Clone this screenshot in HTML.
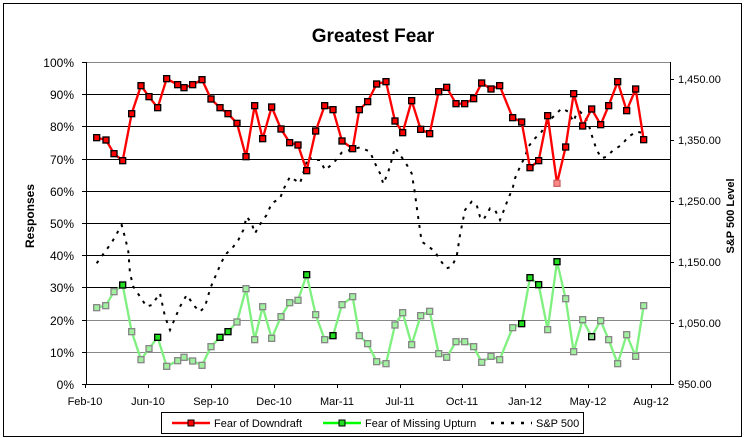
<!DOCTYPE html>
<html><head><meta charset="utf-8"><style>
html,body{margin:0;padding:0;background:#fff}
svg{display:block;font-family:"Liberation Sans",Arial,sans-serif}
</style></head><body>
<svg width="748" height="438" viewBox="0 0 748 438" xmlns="http://www.w3.org/2000/svg">
<rect x="0" y="0" width="748" height="438" fill="#fff"/>
<rect x="3.5" y="3.5" width="738" height="433" fill="#fff" stroke="#000" stroke-width="1"/>
<text x="373" y="42" font-size="19" font-weight="bold" text-anchor="middle">Greatest Fear</text>
<!-- gridlines -->
<g stroke-width="1">
<line x1="86" y1="62.5" x2="670" y2="62.5" stroke="#888"/>
<line x1="86" y1="94.5" x2="670" y2="94.5" stroke="#000"/>
<line x1="86" y1="126.5" x2="670" y2="126.5" stroke="#000"/>
<line x1="86" y1="159.5" x2="670" y2="159.5" stroke="#000"/>
<line x1="86" y1="191.5" x2="670" y2="191.5" stroke="#000"/>
<line x1="86" y1="223.5" x2="670" y2="223.5" stroke="#000"/>
<line x1="86" y1="255.5" x2="670" y2="255.5" stroke="#000"/>
<line x1="86" y1="287.5" x2="670" y2="287.5" stroke="#000"/>
<line x1="86" y1="320.5" x2="670" y2="320.5" stroke="#888"/>
<line x1="86" y1="352.5" x2="670" y2="352.5" stroke="#888"/>
</g>
<!-- axes -->
<g stroke="#000" stroke-width="1">
<line x1="86.5" y1="62" x2="86.5" y2="385"/>
<line x1="670.5" y1="62" x2="670.5" y2="385"/>
<line x1="86" y1="384.5" x2="671" y2="384.5"/>
<path d="M82 62.5h4M82 94.5h4M82 126.5h4M82 159.5h4M82 191.5h4M82 223.5h4M82 255.5h4M82 287.5h4M82 320.5h4M82 352.5h4M82 384.5h4"/>
<path d="M670 79.5h4M670 140.5h4M670 201.5h4M670 262.5h4M670 323.5h4M670 384.5h4"/>
<path d="M85.5 384v4M148.5 384v4M211.5 384v4M274.5 384v4M337.5 384v4M400.5 384v4M462.5 384v4M525.5 384v4M588.5 384v4M651.5 384v4"/>
</g>
<g font-size="12" text-anchor="end">
<text x="74" y="67">100%</text><text x="74" y="99">90%</text><text x="74" y="131">80%</text>
<text x="74" y="164">70%</text><text x="74" y="196">60%</text><text x="74" y="228">50%</text>
<text x="74" y="260">40%</text><text x="74" y="292">30%</text><text x="74" y="325">20%</text>
<text x="74" y="357">10%</text><text x="74" y="389">0%</text>
</g>
<g font-size="11">
<text x="678" y="83">1,450.00</text><text x="678" y="144">1,350.00</text><text x="678" y="205">1,250.00</text>
<text x="678" y="266">1,150.00</text><text x="678" y="327">1,050.00</text><text x="678" y="388">950.00</text>
</g>
<g font-size="11" text-anchor="middle">
<text x="85" y="405">Feb-10</text><text x="148" y="405">Jun-10</text><text x="211" y="405">Sep-10</text>
<text x="274" y="405">Dec-10</text><text x="337" y="405">Mar-11</text><text x="400" y="405">Jul-11</text>
<text x="462" y="405">Oct-11</text><text x="525" y="405">Jan-12</text><text x="588" y="405">May-12</text>
<text x="651" y="405">Aug-12</text>
</g>
<text transform="translate(34,216) rotate(-90)" font-size="12" font-weight="bold" text-anchor="middle">Responses</text>
<text transform="translate(734,216) rotate(-90)" font-size="11" font-weight="bold" text-anchor="middle">S&amp;P 500 Level</text>

<g transform="translate(80,60) scale(0.33333)">
<!-- S&P -->
<polyline fill="none" stroke="#000" stroke-width="6" stroke-dasharray="9,18" points="50,610 75,575 95,548 125,495 137,540 145,575 150,640 160,680 180,710 200,740 215,735 240,700 255,770 270,810 285,775 300,740 320,705 345,740 360,755 375,740 385,705 395,675 410,640 425,605 440,580 460,560 475,540 490,510 500,470 515,490 525,520 545,485 560,465 575,430 600,415 612,385 630,350 645,360 660,370 685,290 700,300 720,300 735,330 760,310 785,278 810,270 840,262 870,275 885,310 900,340 910,372 925,335 935,300 945,262 960,285 975,305 995,340 1005,400 1010,440 1015,475 1020,510 1025,545 1040,555 1065,575 1080,600 1100,625 1115,620 1130,590 1140,525 1148,485 1155,450 1175,425 1190,435 1200,470 1210,480 1230,445 1245,450 1260,480 1270,455 1285,415 1298,385 1305,355 1320,320 1335,290 1345,260 1365,235 1385,215 1400,190 1425,165 1445,145 1465,155 1480,185 1490,160 1500,155 1515,170 1525,190 1535,225 1550,270 1565,295 1580,290 1600,270 1625,255 1645,230 1670,215 1685,218"/>
<!-- red -->
<polyline fill="none" stroke="#f00" stroke-width="7" stroke-linejoin="round" points="50,233 78,240 102,281 128,302 155,161 183,77 207,110 233,143 260,56 293,74 312,83 338,74 366,59 393,117 420,143 444,161 471,190 498,290 524,137 548,236 575,141 603,207 629,248 654,255 680,332 707,213 734,137 759,149 786,243 818,266 838,149 863,125 890,72 918,65 945,183 968,218 995,122 1022,208 1049,221 1076,95 1100,82 1128,131 1154,131 1181,116 1205,69 1233,87 1259,77 1298,173 1325,186 1350,323 1376,302 1403,167 1431,370 1457,261 1481,101 1508,198 1535,147 1562,194 1586,137 1613,65 1640,152 1667,87 1691,239"/>
<!-- green -->
<polyline fill="none" stroke="#80f080" stroke-width="7" stroke-linejoin="round" points="50,743 77,737 102,695 128,675 155,815 183,899 207,866 233,832 260,919 293,902 312,892 338,903 366,916 393,860 420,832 444,815 471,786 498,686 524,839 548,740 575,835 603,770 629,728 654,721 680,644 707,764 734,839 759,827 786,734 818,710 838,827 863,851 890,905 918,911 945,795 968,758 995,854 1022,767 1049,754 1076,881 1100,892 1128,845 1154,845 1181,860 1205,907 1233,889 1259,899 1298,803 1325,791 1350,653 1376,674 1403,809 1431,605 1457,716 1481,875 1508,779 1535,830 1562,782 1586,839 1613,911 1640,824 1667,889 1691,737"/>
<g fill="#f00" stroke="#000" stroke-width="4">
<rect x="41" y="224" width="18" height="18"/><rect x="69" y="231" width="18" height="18"/><rect x="93" y="272" width="18" height="18"/><rect x="119" y="293" width="18" height="18"/><rect x="146" y="152" width="18" height="18"/><rect x="174" y="68" width="18" height="18"/><rect x="198" y="101" width="18" height="18"/><rect x="224" y="134" width="18" height="18"/><rect x="251" y="47" width="18" height="18"/><rect x="284" y="65" width="18" height="18"/><rect x="303" y="74" width="18" height="18"/><rect x="329" y="65" width="18" height="18"/><rect x="357" y="50" width="18" height="18"/><rect x="384" y="108" width="18" height="18"/><rect x="411" y="134" width="18" height="18"/><rect x="435" y="152" width="18" height="18"/><rect x="462" y="181" width="18" height="18"/><rect x="489" y="281" width="18" height="18"/><rect x="515" y="128" width="18" height="18"/><rect x="539" y="227" width="18" height="18"/><rect x="566" y="132" width="18" height="18"/><rect x="594" y="198" width="18" height="18"/><rect x="620" y="239" width="18" height="18"/><rect x="645" y="246" width="18" height="18"/><rect x="671" y="323" width="18" height="18"/><rect x="698" y="204" width="18" height="18"/><rect x="725" y="128" width="18" height="18"/><rect x="750" y="140" width="18" height="18"/><rect x="777" y="234" width="18" height="18"/><rect x="809" y="257" width="18" height="18"/><rect x="829" y="140" width="18" height="18"/><rect x="854" y="116" width="18" height="18"/><rect x="881" y="63" width="18" height="18"/><rect x="909" y="56" width="18" height="18"/><rect x="936" y="174" width="18" height="18"/><rect x="959" y="209" width="18" height="18"/><rect x="986" y="113" width="18" height="18"/><rect x="1013" y="199" width="18" height="18"/><rect x="1040" y="212" width="18" height="18"/><rect x="1067" y="86" width="18" height="18"/><rect x="1091" y="73" width="18" height="18"/><rect x="1119" y="122" width="18" height="18"/><rect x="1145" y="122" width="18" height="18"/><rect x="1172" y="107" width="18" height="18"/><rect x="1196" y="60" width="18" height="18"/><rect x="1224" y="78" width="18" height="18"/><rect x="1250" y="68" width="18" height="18"/><rect x="1289" y="164" width="18" height="18"/><rect x="1316" y="177" width="18" height="18"/><rect x="1341" y="314" width="18" height="18"/><rect x="1367" y="293" width="18" height="18"/><rect x="1394" y="158" width="18" height="18"/><rect x="1422" y="361" width="18" height="18" fill="#f88" stroke="#c66"/><rect x="1448" y="252" width="18" height="18"/><rect x="1472" y="92" width="18" height="18"/><rect x="1499" y="189" width="18" height="18"/><rect x="1526" y="138" width="18" height="18"/><rect x="1553" y="185" width="18" height="18"/><rect x="1577" y="128" width="18" height="18"/><rect x="1604" y="56" width="18" height="18"/><rect x="1631" y="143" width="18" height="18"/><rect x="1658" y="78" width="18" height="18"/><rect x="1682" y="230" width="18" height="18"/>
</g>
<g fill="#a0f0a0" stroke="#888" stroke-width="4">
<rect x="41" y="734" width="18" height="18"/><rect x="68" y="728" width="18" height="18"/><rect x="93" y="686" width="18" height="18"/><rect x="119" y="666" width="18" height="18" fill="#2d2" stroke="#000"/><rect x="146" y="806" width="18" height="18"/><rect x="174" y="890" width="18" height="18"/><rect x="198" y="857" width="18" height="18"/><rect x="224" y="823" width="18" height="18" fill="#2d2" stroke="#000"/><rect x="251" y="910" width="18" height="18"/><rect x="284" y="893" width="18" height="18"/><rect x="303" y="883" width="18" height="18"/><rect x="329" y="894" width="18" height="18"/><rect x="357" y="907" width="18" height="18"/><rect x="384" y="851" width="18" height="18"/><rect x="411" y="823" width="18" height="18" fill="#2d2" stroke="#000"/><rect x="435" y="806" width="18" height="18" fill="#2d2" stroke="#000"/><rect x="462" y="777" width="18" height="18"/><rect x="489" y="677" width="18" height="18"/><rect x="515" y="830" width="18" height="18"/><rect x="539" y="731" width="18" height="18"/><rect x="566" y="826" width="18" height="18"/><rect x="594" y="761" width="18" height="18"/><rect x="620" y="719" width="18" height="18"/><rect x="645" y="712" width="18" height="18"/><rect x="671" y="635" width="18" height="18" fill="#2d2" stroke="#000"/><rect x="698" y="755" width="18" height="18"/><rect x="725" y="830" width="18" height="18"/><rect x="750" y="818" width="18" height="18" fill="#2d2" stroke="#000"/><rect x="777" y="725" width="18" height="18"/><rect x="809" y="701" width="18" height="18"/><rect x="829" y="818" width="18" height="18"/><rect x="854" y="842" width="18" height="18"/><rect x="881" y="896" width="18" height="18"/><rect x="909" y="902" width="18" height="18"/><rect x="936" y="786" width="18" height="18"/><rect x="959" y="749" width="18" height="18"/><rect x="986" y="845" width="18" height="18"/><rect x="1013" y="758" width="18" height="18"/><rect x="1040" y="745" width="18" height="18"/><rect x="1067" y="872" width="18" height="18"/><rect x="1091" y="883" width="18" height="18"/><rect x="1119" y="836" width="18" height="18"/><rect x="1145" y="836" width="18" height="18"/><rect x="1172" y="851" width="18" height="18"/><rect x="1196" y="898" width="18" height="18"/><rect x="1224" y="880" width="18" height="18"/><rect x="1250" y="890" width="18" height="18"/><rect x="1289" y="794" width="18" height="18"/><rect x="1316" y="782" width="18" height="18" fill="#2d2" stroke="#000"/><rect x="1341" y="644" width="18" height="18" fill="#2d2" stroke="#000"/><rect x="1367" y="665" width="18" height="18" fill="#2d2" stroke="#000"/><rect x="1394" y="800" width="18" height="18"/><rect x="1422" y="596" width="18" height="18" fill="#2d2" stroke="#000"/><rect x="1448" y="707" width="18" height="18"/><rect x="1472" y="866" width="18" height="18"/><rect x="1499" y="770" width="18" height="18"/><rect x="1526" y="821" width="18" height="18" fill="#8d8" stroke="#000"/><rect x="1553" y="773" width="18" height="18"/><rect x="1577" y="830" width="18" height="18"/><rect x="1604" y="902" width="18" height="18"/><rect x="1631" y="815" width="18" height="18"/><rect x="1658" y="880" width="18" height="18"/><rect x="1682" y="728" width="18" height="18"/>
</g>
</g>
<!-- legend -->
<rect x="161.5" y="412.5" width="422" height="21" fill="#fff" stroke="#000" stroke-width="1"/>
<line x1="172" y1="423" x2="210" y2="423" stroke="#f00" stroke-width="2.5"/>
<rect x="188" y="420" width="6" height="6" fill="#f00" stroke="#000"/>
<text x="214" y="427" font-size="11">Fear of Downdraft</text>
<line x1="323" y1="423" x2="361" y2="423" stroke="#0f0" stroke-width="2.5"/>
<rect x="339" y="420" width="6" height="6" fill="#2d2" stroke="#000"/>
<text x="365" y="427" font-size="11">Fear of Missing Upturn</text>
<line x1="491" y1="423" x2="532" y2="423" stroke="#000" stroke-width="2.5" stroke-dasharray="3,7"/>
<text x="536" y="427" font-size="11">S&amp;P 500</text>
</svg>
</body></html>
